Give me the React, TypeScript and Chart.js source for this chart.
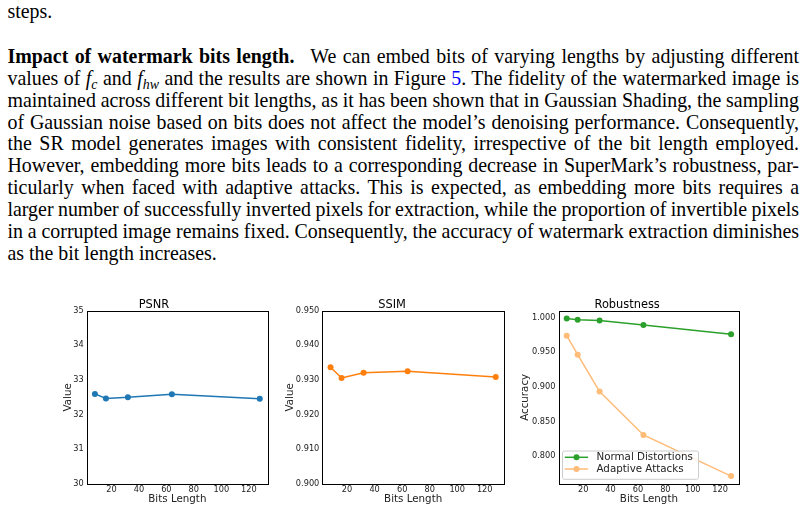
import { useEffect, useRef } from 'react';
import { Chart, registerables } from 'chart.js';

Chart.register(...registerables);

const bitsLength = [8, 16, 32, 64, 128];
const psnrValues = [32.6, 32.47, 32.5, 32.59, 32.46];
const ssimValues = [0.9337, 0.9306, 0.9321, 0.9325, 0.9309];
const normalDistortions = [0.9986, 0.9971, 0.9957, 0.9894, 0.9758];
const adaptiveAttacks = [0.9739, 0.9464, 0.8932, 0.8304, 0.771];

const xTicks = [20, 40, 60, 80, 100, 120];
const psnrTicks = [30, 31, 32, 33, 34, 35];
const ssimTicks = [0.9, 0.91, 0.92, 0.93, 0.94, 0.95];
const robustTicks = [0.8, 0.85, 0.9, 0.95, 1.0];

const FONT = 'DejaVu Sans';
const CANVAS_TOP = 292;
const CANVAS_H = 220;
const AREA_BOTTOM = 484;

interface Series {
  label: string;
  values: number[];
  color: string;
}

interface PanelProps {
  title: string;
  yLabel: string;
  series: Series[];
  yMin: number;
  yMax: number;
  yTicks: number[];
  decimals: number;
  legend?: boolean;
  left: number;
  width: number;
  areaLeft: number;
  areaRight: number;
  yTitleX: number;
}

// draws the black box round the plot and, when asked, the matplotlib-like legend inside it
const framePlugin = {
  id: 'frame',
  afterDraw(chart: any, _args: any, opts: any) {
    const { ctx, chartArea: a } = chart;
    ctx.save();
    if (opts.legend) {
      const lx = a.left + 4;
      const h = 28.3;
      const w = 136;
      const ly = a.bottom - 4.7 - h;
      ctx.beginPath();
      ctx.roundRect(lx, ly, w, h, 2);
      ctx.fillStyle = 'rgba(255,255,255,0.8)';
      ctx.fill();
      ctx.strokeStyle = '#cccccc';
      ctx.lineWidth = 1;
      ctx.stroke();
      chart.data.datasets.forEach((ds: any, i: number) => {
        const y = ly + 6.3 + i * 11.7;
        ctx.strokeStyle = ds.borderColor;
        ctx.lineWidth = 1.5;
        ctx.beginPath();
        ctx.moveTo(lx + 2.3, y);
        ctx.lineTo(lx + 25.6, y);
        ctx.stroke();
        ctx.fillStyle = ds.borderColor;
        ctx.beginPath();
        ctx.arc(lx + 14, y, 3, 0, Math.PI * 2);
        ctx.fill();
        ctx.fillStyle = '#222';
        ctx.font = `10.3px "${FONT}"`;
        ctx.textBaseline = 'middle';
        ctx.textAlign = 'left';
        ctx.fillText(ds.label, lx + 34, y + 0.5);
      });
    }
    ctx.strokeStyle = '#000';
    ctx.lineWidth = 1;
    ctx.strokeRect(
      Math.round(a.left) + 0.5,
      Math.round(a.top) + 0.5,
      Math.round(a.right) - Math.round(a.left),
      Math.round(a.bottom) - Math.round(a.top)
    );
    ctx.restore();
  },
};

function Panel(props: PanelProps) {
  const chartRef = useRef<HTMLCanvasElement>(null);

  useEffect(() => {
    if (!chartRef.current) return;
    const { title, yLabel, series, yMin, yMax, yTicks, decimals, legend, left, width, areaLeft, areaRight, yTitleX } = props;

    const chart = new Chart(chartRef.current, {
      type: 'line',
      data: {
        datasets: series.map((s) => ({
          label: s.label,
          data: bitsLength.map((x, i) => ({ x, y: s.values[i] })),
          borderColor: s.color,
          backgroundColor: s.color,
          pointBackgroundColor: s.color,
          borderWidth: 1.5,
          pointRadius: 3,
          pointBorderWidth: 0,
          tension: 0,
        })),
      },
      options: {
        animation: false,
        responsive: false,
        layout: { padding: { left: 0, top: 0, bottom: 0, right: left + width - areaRight } },
        plugins: {
          legend: { display: false },
          tooltip: { enabled: false },
          title: {
            display: true,
            text: title,
            color: '#000',
            font: { family: FONT, size: 11.4, weight: 'normal', lineHeight: 1 },
            padding: { top: 7.3, bottom: 0 },
          },
          frame: { legend: !!legend },
        } as any,
        scales: {
          x: {
            type: 'linear',
            min: 2,
            max: 134,
            grid: { display: false, drawTicks: false },
            border: { display: false },
            afterBuildTicks: (s: any) => {
              s.ticks = xTicks.map((v) => ({ value: v }));
            },
            afterFit: (s: any) => {
              s.height = CANVAS_TOP + CANVAS_H - AREA_BOTTOM;
            },
            ticks: {
              color: '#222',
              font: { family: FONT, size: 8.2 },
              padding: 1,
              maxRotation: 0,
              autoSkip: false,
            },
            title: {
              display: true,
              text: 'Bits Length',
              color: '#222',
              font: { family: FONT, size: 10.3, lineHeight: 1 },
              padding: { top: 0, bottom: 7.85 },
            },
          },
          y: {
            type: 'linear',
            min: yMin,
            max: yMax,
            grid: { display: false, drawTicks: false },
            border: { display: false },
            afterBuildTicks: (s: any) => {
              s.ticks = yTicks.map((v) => ({ value: v }));
            },
            afterFit: (s: any) => {
              s.width = areaLeft - left;
            },
            ticks: {
              color: '#222',
              font: { family: FONT, size: 8.2 },
              padding: 3,
              autoSkip: false,
              callback: (v: any) => Number(v).toFixed(decimals),
            },
            title: {
              display: true,
              text: yLabel,
              color: '#222',
              font: { family: FONT, size: 10.3, lineHeight: 1 },
              padding: { top: yTitleX - left - 5.15, bottom: 0 },
            },
          },
        },
      },
      plugins: [framePlugin],
    });

    return () => {
      chart.destroy();
    };
  }, []);

  return (
    <canvas
      ref={chartRef}
      width={props.width}
      height={CANVAS_H}
      style={{ position: 'absolute', left: props.left, top: CANVAS_TOP, width: props.width, height: CANVAS_H }}
    />
  );
}

const lineStyle: React.CSSProperties = {
  whiteSpace: 'nowrap',
  textAlign: 'justify',
  textAlignLast: 'justify',
  height: '21.9px',
};

function Line({ children, last }: { children: React.ReactNode; last?: boolean }) {
  return <div style={last ? { ...lineStyle, textAlign: 'left', textAlignLast: 'left', wordSpacing: 0 } : lineStyle}>{children}</div>;
}

const subStyle: React.CSSProperties = { fontSize: '0.7em', verticalAlign: '-0.3em', lineHeight: 0, fontStyle: 'italic' };

export default function App() {
  return (
    <div style={{ position: 'absolute', left: 0, top: 0, width: 805, height: 512, background: '#fff', overflow: 'hidden' }}>
      <div
        style={{
          position: 'absolute',
          left: 7.5,
          top: 1.3,
          width: 791.5,
          fontFamily: '"Liberation Serif", serif',
          fontSize: '19.9px',
          lineHeight: '21.9px',
          wordSpacing: '-0.08em',
          color: '#000',
        }}
      >
        <Line last>steps.</Line>
        <div style={{ height: '22.7px' }} />
        <Line>
          <b style={{ marginRight: '0.5em' }}>Impact of watermark bits length.</b> We can embed bits of varying lengths by adjusting different
        </Line>
        <Line>
          values of <i>f</i><span style={subStyle}>c</span> and <i>f</i><span style={subStyle}>hw</span> and the results are shown in Figure{' '}
          <span style={{ color: '#0000ff' }}>5</span>. The fidelity of the watermarked image is
        </Line>
        <Line>maintained across different bit lengths, as it has been shown that in Gaussian Shading, the sampling</Line>
        <Line>of Gaussian noise based on bits does not affect the model’s denoising performance. Consequently,</Line>
        <Line>the SR model generates images with consistent fidelity, irrespective of the bit length employed.</Line>
        <Line>However, embedding more bits leads to a corresponding decrease in SuperMark’s robustness, par-</Line>
        <Line>ticularly when faced with adaptive attacks. This is expected, as embedding more bits requires a</Line>
        <Line>larger number of successfully inverted pixels for extraction, while the proportion of invertible pixels</Line>
        <Line>in a corrupted image remains fixed. Consequently, the accuracy of watermark extraction diminishes</Line>
        <Line last>as the bit length increases.</Line>
      </div>

      <Panel
        title="PSNR"
        yLabel="Value"
        series={[{ label: 'PSNR', values: psnrValues, color: '#1f77b4' }]}
        yMin={30}
        yMax={35}
        yTicks={psnrTicks}
        decimals={0}
        left={40}
        width={240}
        areaLeft={86.7}
        areaRight={268}
        yTitleX={68}
      />
      <Panel
        title="SSIM"
        yLabel="Value"
        series={[{ label: 'SSIM', values: ssimValues, color: '#ff7f0e' }]}
        yMin={0.9}
        yMax={0.95}
        yTicks={ssimTicks}
        decimals={3}
        left={280}
        width={235}
        areaLeft={322.3}
        areaRight={504}
        yTitleX={290}
      />
      <Panel
        title="Robustness"
        yLabel="Accuracy"
        series={[
          { label: 'Normal Distortions', values: normalDistortions, color: '#2ca02c' },
          { label: 'Adaptive Attacks', values: adaptiveAttacks, color: '#ffbb78' },
        ]}
        yMin={0.7596}
        yMax={1.01}
        yTicks={robustTicks}
        decimals={3}
        legend
        left={515}
        width={240}
        areaLeft={558.5}
        areaRight={739.3}
        yTitleX={525}
      />
    </div>
  );
}
